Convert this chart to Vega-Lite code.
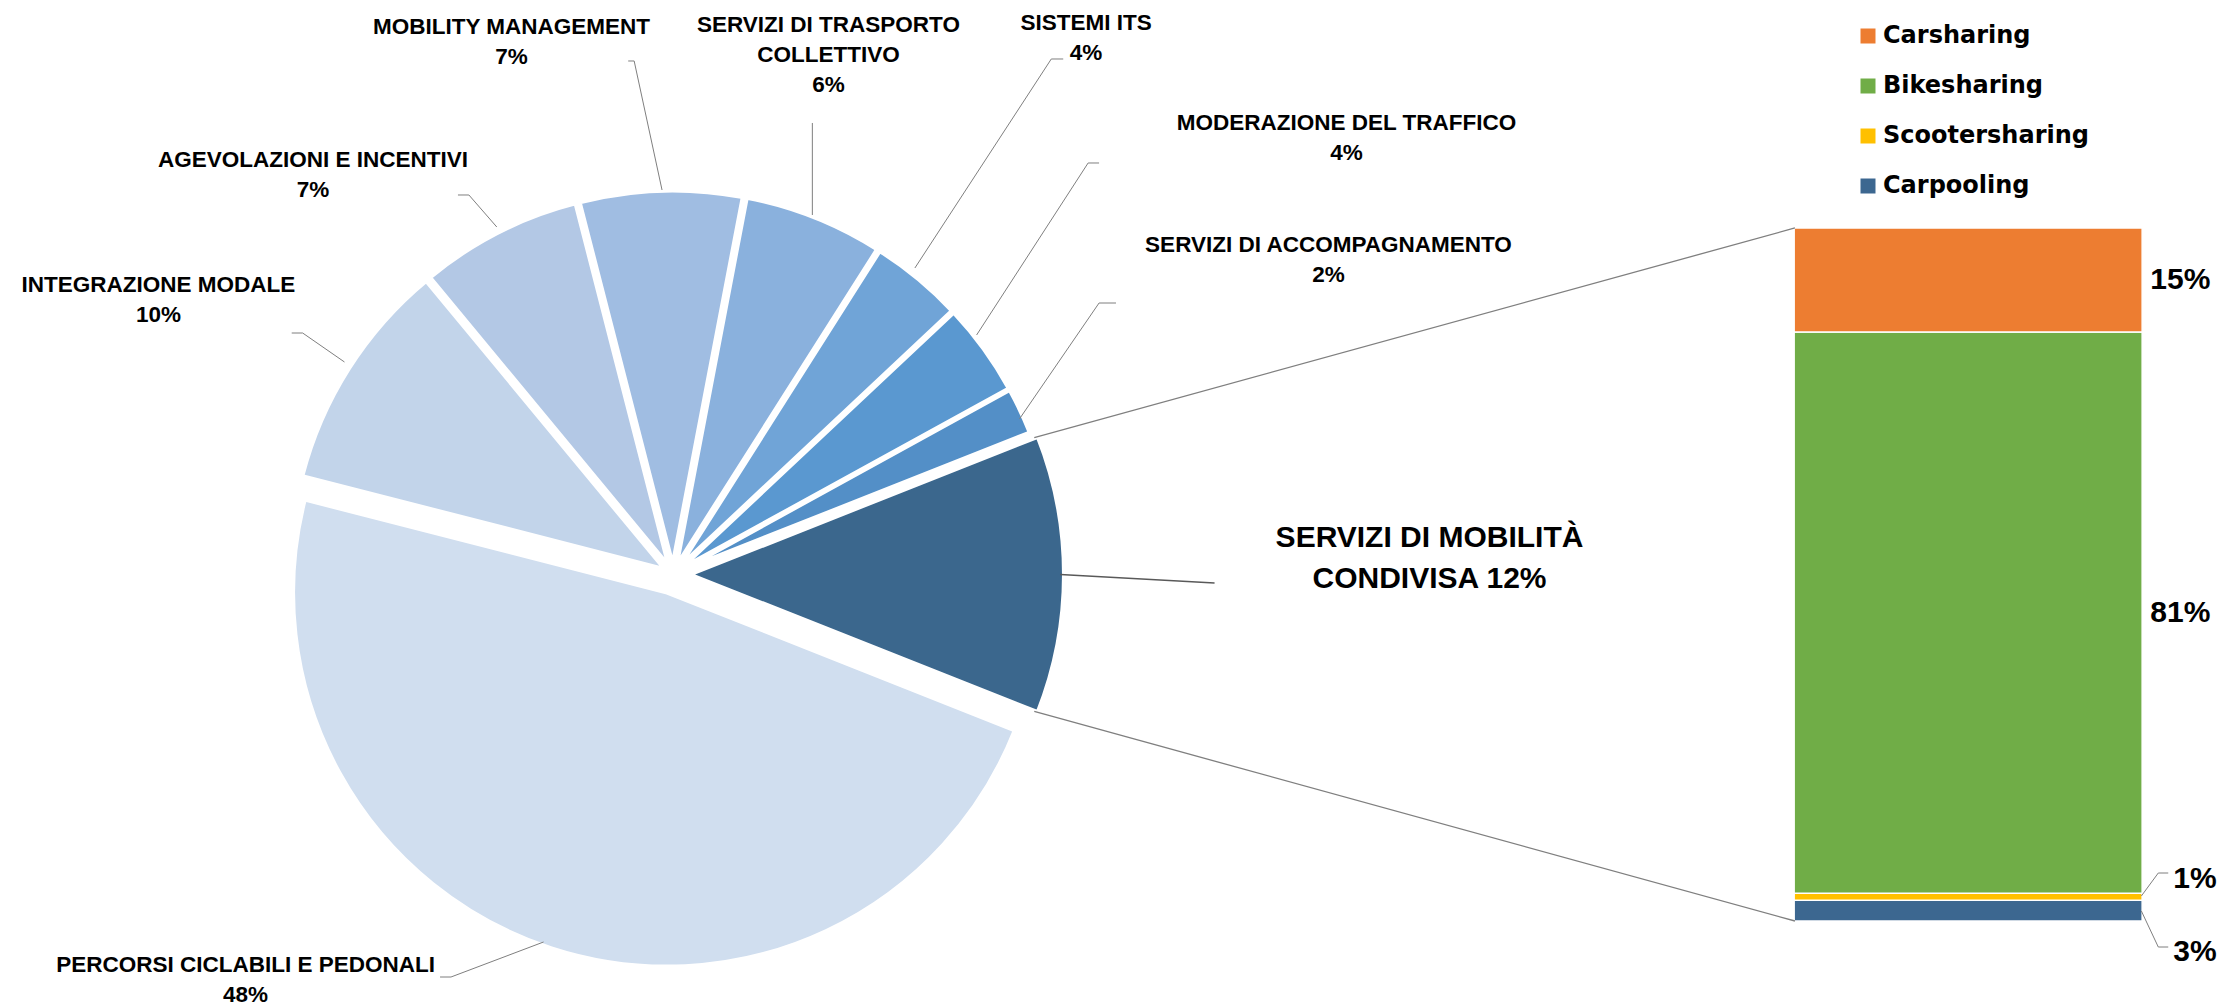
{
  "$schema": "https://vega.github.io/schema/vega-lite/v6.json",
  "width": 2229,
  "height": 1008,
  "autosize": {"type": "none"},
  "padding": 0,
  "background": "#ffffff",
  "config": {"view": {"stroke": null}, "axis": {"disable": true}},
  "datasets": {
    "ambiti": [
      {"ambito": "PERCORSI CICLABILI E PEDONALI", "quota": 0.48, "ordine": 1, "etichetta": "PERCORSI CICLABILI E PEDONALI\n48%"},
      {"ambito": "INTEGRAZIONE MODALE", "quota": 0.10, "ordine": 2, "etichetta": "INTEGRAZIONE MODALE\n10%"},
      {"ambito": "AGEVOLAZIONI E INCENTIVI", "quota": 0.07, "ordine": 3, "etichetta": "AGEVOLAZIONI E INCENTIVI\n7%"},
      {"ambito": "MOBILITY MANAGEMENT", "quota": 0.07, "ordine": 4, "etichetta": "MOBILITY MANAGEMENT\n7%"},
      {"ambito": "SERVIZI DI TRASPORTO COLLETTIVO", "quota": 0.06, "ordine": 5, "etichetta": "SERVIZI DI TRASPORTO\nCOLLETTIVO\n6%"},
      {"ambito": "SISTEMI ITS", "quota": 0.04, "ordine": 6, "etichetta": "SISTEMI ITS\n4%"},
      {"ambito": "MODERAZIONE DEL TRAFFICO", "quota": 0.04, "ordine": 7, "etichetta": "MODERAZIONE DEL TRAFFICO\n4%"},
      {"ambito": "SERVIZI DI ACCOMPAGNAMENTO", "quota": 0.02, "ordine": 8, "etichetta": "SERVIZI DI ACCOMPAGNAMENTO\n2%"},
      {"ambito": "SERVIZI DI MOBILITÀ CONDIVISA", "quota": 0.12, "ordine": 9, "etichetta": "SERVIZI DI MOBILITÀ\nCONDIVISA 12%"}
    ],
    "condivisa": [
      {"servizio": "Carpooling", "quota": 0.03, "ordine": 1},
      {"servizio": "Scootersharing", "quota": 0.01, "ordine": 2},
      {"servizio": "Bikesharing", "quota": 0.81, "ordine": 3},
      {"servizio": "Carsharing", "quota": 0.15, "ordine": 4}
    ]
  },
  "layer": [
    {
      "data": {"name": "ambiti"},
      "encoding": {
        "x": {"datum": 0.96825, "type": "quantitative", "axis": null, "scale": {"domain": [0, 3.21645], "nice": false, "zero": false}},
        "y": {"datum": 0.5, "type": "quantitative", "axis": null, "scale": {"domain": [-0.12554, 1.329], "nice": false, "zero": false}},
        "theta": {"field": "quota", "type": "quantitative", "stack": true, "scale": {"range": [1.94779, 8.23097]}},
        "order": {"field": "ordine", "type": "quantitative"},
        "fill": {
          "field": "ambito", "type": "nominal", "legend": null,
          "scale": {
            "domain": ["PERCORSI CICLABILI E PEDONALI", "INTEGRAZIONE MODALE", "AGEVOLAZIONI E INCENTIVI", "MOBILITY MANAGEMENT", "SERVIZI DI TRASPORTO COLLETTIVO", "SISTEMI ITS", "MODERAZIONE DEL TRAFFICO", "SERVIZI DI ACCOMPAGNAMENTO", "SERVIZI DI MOBILITÀ CONDIVISA"],
            "range": ["#D0DEEF", "#C2D4EA", "#B3C8E5", "#A0BDE2", "#8AB1DD", "#70A4D7", "#5A98D0", "#538FC7", "#3B678D"]
          }
        }
      },
      "layer": [
        {"mark": {"type": "arc", "radius": 374, "stroke": "#ffffff", "strokeWidth": 4, "strokeJoin": "round", "xOffset": -5.9, "yOffset": 18.1},
         "encoding": {"opacity": {"condition": {"test": "datum.ordine === 1", "value": 1}, "value": 0}}},
        {"mark": {"type": "arc", "radius": 374, "stroke": "#ffffff", "strokeWidth": 4, "strokeJoin": "round", "xOffset": -8.4, "yOffset": -5.4},
         "encoding": {"opacity": {"condition": {"test": "datum.ordine === 2", "value": 1}, "value": 0}}},
        {"mark": {"type": "arc", "radius": 374, "stroke": "#ffffff", "strokeWidth": 4, "strokeJoin": "round", "xOffset": -4.5, "yOffset": -8.9},
         "encoding": {"opacity": {"condition": {"test": "datum.ordine === 3", "value": 1}, "value": 0}}},
        {"mark": {"type": "arc", "radius": 374, "stroke": "#ffffff", "strokeWidth": 4, "strokeJoin": "round", "xOffset": -0.3, "yOffset": -10},
         "encoding": {"opacity": {"condition": {"test": "datum.ordine === 4", "value": 1}, "value": 0}}},
        {"mark": {"type": "arc", "radius": 374, "stroke": "#ffffff", "strokeWidth": 4, "strokeJoin": "round", "xOffset": 3.7, "yOffset": -9.3},
         "encoding": {"opacity": {"condition": {"test": "datum.ordine === 5", "value": 1}, "value": 0}}},
        {"mark": {"type": "arc", "radius": 374, "stroke": "#ffffff", "strokeWidth": 4, "strokeJoin": "round", "xOffset": 6.4, "yOffset": -7.7},
         "encoding": {"opacity": {"condition": {"test": "datum.ordine === 6", "value": 1}, "value": 0}}},
        {"mark": {"type": "arc", "radius": 374, "stroke": "#ffffff", "strokeWidth": 4, "strokeJoin": "round", "xOffset": 8.1, "yOffset": -5.9},
         "encoding": {"opacity": {"condition": {"test": "datum.ordine === 7", "value": 1}, "value": 0}}},
        {"mark": {"type": "arc", "radius": 374, "stroke": "#ffffff", "strokeWidth": 4, "strokeJoin": "round", "xOffset": 9.0, "yOffset": -4.3},
         "encoding": {"opacity": {"condition": {"test": "datum.ordine === 8", "value": 1}, "value": 0}}},
        {"mark": {"type": "arc", "radius": 374, "stroke": "#ffffff", "strokeWidth": 4, "strokeJoin": "round", "xOffset": 17, "yOffset": 0},
         "encoding": {"opacity": {"condition": {"test": "datum.ordine === 9", "value": 1}, "value": 0}}},

        {"mark": {"type": "text", "radius": 589.2, "thetaOffset": 0.4974, "dy": -15, "align": "center", "baseline": "middle", "lineBreak": "\n", "lineHeight": 30, "font": "Liberation Sans", "fontSize": 22.5, "fontWeight": "bold"},
         "encoding": {"fill": {"value": "#000000"}, "text": {"condition": {"test": "datum.ordine === 1", "field": "etichetta", "type": "nominal"}, "value": ""}}},
        {"mark": {"type": "text", "radius": 583.2, "thetaOffset": -0.0754, "dy": -15, "align": "center", "baseline": "middle", "lineBreak": "\n", "lineHeight": 30, "font": "Liberation Sans", "fontSize": 22.5, "fontWeight": "bold"},
         "encoding": {"fill": {"value": "#000000"}, "text": {"condition": {"test": "datum.ordine === 2", "field": "etichetta", "type": "nominal"}, "value": ""}}},
        {"mark": {"type": "text", "radius": 537.8, "thetaOffset": -0.2621, "dy": -15, "align": "center", "baseline": "middle", "lineBreak": "\n", "lineHeight": 30, "font": "Liberation Sans", "fontSize": 22.5, "fontWeight": "bold"},
         "encoding": {"fill": {"value": "#000000"}, "text": {"condition": {"test": "datum.ordine === 3", "field": "etichetta", "type": "nominal"}, "value": ""}}},
        {"mark": {"type": "text", "radius": 556.9, "thetaOffset": -0.2628, "dy": -15, "align": "center", "baseline": "middle", "lineBreak": "\n", "lineHeight": 30, "font": "Liberation Sans", "fontSize": 22.5, "fontWeight": "bold"},
         "encoding": {"fill": {"value": "#000000"}, "text": {"condition": {"test": "datum.ordine === 4", "field": "etichetta", "type": "nominal"}, "value": ""}}},
        {"mark": {"type": "text", "radius": 541.8, "thetaOffset": -0.0859, "dy": -30, "align": "center", "baseline": "middle", "lineBreak": "\n", "lineHeight": 30, "font": "Liberation Sans", "fontSize": 22.5, "fontWeight": "bold"},
         "encoding": {"fill": {"value": "#000000"}, "text": {"condition": {"test": "datum.ordine === 5", "field": "etichetta", "type": "nominal"}, "value": ""}}},
        {"mark": {"type": "text", "radius": 677.1, "thetaOffset": -0.0351, "dy": -15, "align": "center", "baseline": "middle", "lineBreak": "\n", "lineHeight": 30, "font": "Liberation Sans", "fontSize": 22.5, "fontWeight": "bold"},
         "encoding": {"fill": {"value": "#000000"}, "text": {"condition": {"test": "datum.ordine === 6", "field": "etichetta", "type": "nominal"}, "value": ""}}},
        {"mark": {"type": "text", "radius": 802.6, "thetaOffset": 0.0532, "dy": -15, "align": "center", "baseline": "middle", "lineBreak": "\n", "lineHeight": 30, "font": "Liberation Sans", "fontSize": 22.5, "fontWeight": "bold"},
         "encoding": {"fill": {"value": "#000000"}, "text": {"condition": {"test": "datum.ordine === 7", "field": "etichetta", "type": "nominal"}, "value": ""}}},
        {"mark": {"type": "text", "radius": 727.0, "thetaOffset": -0.0075, "dy": -15, "align": "center", "baseline": "middle", "lineBreak": "\n", "lineHeight": 30, "font": "Liberation Sans", "fontSize": 22.5, "fontWeight": "bold"},
         "encoding": {"fill": {"value": "#000000"}, "text": {"condition": {"test": "datum.ordine === 8", "field": "etichetta", "type": "nominal"}, "value": ""}}},
        {"mark": {"type": "text", "radius": 756.7, "thetaOffset": -0.0218, "dy": -20.5, "align": "center", "baseline": "middle", "lineBreak": "\n", "lineHeight": 41, "font": "Liberation Sans", "fontSize": 30, "fontWeight": "bold"},
         "encoding": {"fill": {"value": "#000000"}, "text": {"condition": {"test": "datum.ordine === 9", "field": "etichetta", "type": "nominal"}, "value": ""}}}
      ]
    },
    {
      "data": {"name": "condivisa"},
      "encoding": {
        "y": {"field": "quota", "type": "quantitative", "stack": "zero", "axis": null, "scale": {"domain": [-0.12554, 1.329], "nice": false, "zero": false}},
        "order": {"field": "ordine", "type": "quantitative"},
        "detail": {"field": "servizio", "type": "nominal"}
      },
      "layer": [
        {
          "mark": {"type": "bar", "width": 348, "stroke": "#ffffff", "strokeWidth": 1.5},
          "encoding": {
            "x": {"datum": 2.8456, "type": "quantitative", "axis": null, "scale": {"domain": [0, 3.21645], "nice": false, "zero": false}},
            "color": {
              "field": "servizio", "type": "nominal",
              "scale": {"domain": ["Carsharing", "Bikesharing", "Scootersharing", "Carpooling"], "range": ["#ED7D31", "#70AD47", "#FFC000", "#3C6790"]},
              "legend": {"orient": "none", "legendX": 1856, "legendY": 24, "title": null, "symbolType": "square", "symbolSize": 225, "symbolStrokeWidth": 0, "labelFont": "DejaVu Sans", "labelFontSize": 24, "labelFontWeight": "bold", "labelColor": "#000000", "labelOffset": 3, "labelLimit": 400, "rowPadding": 26, "padding": 0}
            }
          }
        },
        {
          "mark": {"type": "text", "align": "left", "baseline": "middle", "dx": 9, "font": "Liberation Sans", "fontSize": 30, "fontWeight": "bold", "fill": "#000000"},
          "encoding": {
            "x": {"datum": 3.09668, "type": "quantitative", "axis": null, "scale": {"domain": [0, 3.21645], "nice": false, "zero": false}},
            "y": {"field": "quota", "type": "quantitative", "stack": "zero", "bandPosition": 0.5, "axis": null, "scale": {"domain": [-0.12554, 1.329], "nice": false, "zero": false}},
            "text": {"condition": {"test": "datum.quota >= 0.1", "field": "quota", "type": "quantitative", "format": ".0%"}, "value": ""}
          }
        },
        {
          "mark": {"type": "text", "align": "left", "baseline": "middle", "dx": 32, "dy": -17.5, "font": "Liberation Sans", "fontSize": 30, "fontWeight": "bold", "fill": "#000000"},
          "encoding": {
            "x": {"datum": 3.09668, "type": "quantitative", "axis": null, "scale": {"domain": [0, 3.21645], "nice": false, "zero": false}},
            "y": {"field": "quota", "type": "quantitative", "stack": "zero", "bandPosition": 0.5, "axis": null, "scale": {"domain": [-0.12554, 1.329], "nice": false, "zero": false}},
            "text": {"condition": {"test": "datum.servizio === 'Scootersharing'", "field": "quota", "type": "quantitative", "format": ".0%"}, "value": ""}
          }
        },
        {
          "mark": {"type": "text", "align": "left", "baseline": "middle", "dx": 32, "dy": 41.5, "font": "Liberation Sans", "fontSize": 30, "fontWeight": "bold", "fill": "#000000"},
          "encoding": {
            "x": {"datum": 3.09668, "type": "quantitative", "axis": null, "scale": {"domain": [0, 3.21645], "nice": false, "zero": false}},
            "y": {"field": "quota", "type": "quantitative", "stack": "zero", "bandPosition": 0.5, "axis": null, "scale": {"domain": [-0.12554, 1.329], "nice": false, "zero": false}},
            "text": {"condition": {"test": "datum.servizio === 'Carpooling'", "field": "quota", "type": "quantitative", "format": ".0%"}, "value": ""}
          }
        }
      ]
    },
    {
      "data": {"values": [{}]},
      "layer": [
        {"mark": {"type": "rule", "color": "#7F7F7F", "strokeWidth": 1.3},
         "encoding": {"x": {"datum": 1.49192, "type": "quantitative", "axis": null, "scale": {"domain": [0, 3.21645], "nice": false, "zero": false}}, "y": {"datum": 0.69754, "type": "quantitative", "axis": null, "scale": {"domain": [-0.12554, 1.329], "nice": false, "zero": false}}, "x2": {"datum": 2.59452}, "y2": {"datum": 1.0}}},
        {"mark": {"type": "rule", "color": "#7F7F7F", "strokeWidth": 1.3},
         "encoding": {"x": {"datum": 1.49192, "type": "quantitative", "axis": null, "scale": {"domain": [0, 3.21645], "nice": false, "zero": false}}, "y": {"datum": 0.30245, "type": "quantitative", "axis": null, "scale": {"domain": [-0.12554, 1.329], "nice": false, "zero": false}}, "x2": {"datum": 2.59452}, "y2": {"datum": 0.0}}},
        {"mark": {"type": "rule", "color": "#595959", "strokeWidth": 1.3},
         "encoding": {"x": {"datum": 1.52958, "type": "quantitative", "axis": null, "scale": {"domain": [0, 3.21645], "nice": false, "zero": false}}, "y": {"datum": 0.5, "type": "quantitative", "axis": null, "scale": {"domain": [-0.12554, 1.329], "nice": false, "zero": false}}, "x2": {"datum": 1.75325}, "y2": {"datum": 0.48773}}},

        {"mark": {"type": "rule", "color": "#7F7F7F", "strokeWidth": 1},
         "encoding": {"x": {"datum": 0.90332, "type": "quantitative", "axis": null, "scale": {"domain": [0, 3.21645], "nice": false, "zero": false}}, "y": {"datum": 1.24098, "type": "quantitative", "axis": null, "scale": {"domain": [-0.12554, 1.329], "nice": false, "zero": false}}, "x2": {"datum": 0.91198}, "y2": {"datum": 1.24098}}},
        {"mark": {"type": "rule", "color": "#7F7F7F", "strokeWidth": 1},
         "encoding": {"x": {"datum": 0.91198, "type": "quantitative", "axis": null, "scale": {"domain": [0, 3.21645], "nice": false, "zero": false}}, "y": {"datum": 1.24098, "type": "quantitative", "axis": null, "scale": {"domain": [-0.12554, 1.329], "nice": false, "zero": false}}, "x2": {"datum": 0.95238}, "y2": {"datum": 1.05483}}},
        {"mark": {"type": "rule", "color": "#7F7F7F", "strokeWidth": 1},
         "encoding": {"x": {"datum": 1.17027, "type": "quantitative", "axis": null, "scale": {"domain": [0, 3.21645], "nice": false, "zero": false}}, "y": {"datum": 1.15152, "type": "quantitative", "axis": null, "scale": {"domain": [-0.12554, 1.329], "nice": false, "zero": false}}, "x2": {"datum": 1.17027}, "y2": {"datum": 1.01876}}},
        {"mark": {"type": "rule", "color": "#7F7F7F", "strokeWidth": 1},
         "encoding": {"x": {"datum": 1.51659, "type": "quantitative", "axis": null, "scale": {"domain": [0, 3.21645], "nice": false, "zero": false}}, "y": {"datum": 1.24387, "type": "quantitative", "axis": null, "scale": {"domain": [-0.12554, 1.329], "nice": false, "zero": false}}, "x2": {"datum": 1.53391}, "y2": {"datum": 1.24387}}},
        {"mark": {"type": "rule", "color": "#7F7F7F", "strokeWidth": 1},
         "encoding": {"x": {"datum": 1.51659, "type": "quantitative", "axis": null, "scale": {"domain": [0, 3.21645], "nice": false, "zero": false}}, "y": {"datum": 1.24387, "type": "quantitative", "axis": null, "scale": {"domain": [-0.12554, 1.329], "nice": false, "zero": false}}, "x2": {"datum": 1.3189}, "y2": {"datum": 0.94228}}},
        {"mark": {"type": "rule", "color": "#7F7F7F", "strokeWidth": 1},
         "encoding": {"x": {"datum": 1.56999, "type": "quantitative", "axis": null, "scale": {"domain": [0, 3.21645], "nice": false, "zero": false}}, "y": {"datum": 1.0938, "type": "quantitative", "axis": null, "scale": {"domain": [-0.12554, 1.329], "nice": false, "zero": false}}, "x2": {"datum": 1.58586}, "y2": {"datum": 1.0938}}},
        {"mark": {"type": "rule", "color": "#7F7F7F", "strokeWidth": 1},
         "encoding": {"x": {"datum": 1.56999, "type": "quantitative", "axis": null, "scale": {"domain": [0, 3.21645], "nice": false, "zero": false}}, "y": {"datum": 1.0938, "type": "quantitative", "axis": null, "scale": {"domain": [-0.12554, 1.329], "nice": false, "zero": false}}, "x2": {"datum": 1.40837}, "y2": {"datum": 0.8456}}},
        {"mark": {"type": "rule", "color": "#7F7F7F", "strokeWidth": 1},
         "encoding": {"x": {"datum": 1.58586, "type": "quantitative", "axis": null, "scale": {"domain": [0, 3.21645], "nice": false, "zero": false}}, "y": {"datum": 0.89177, "type": "quantitative", "axis": null, "scale": {"domain": [-0.12554, 1.329], "nice": false, "zero": false}}, "x2": {"datum": 1.61039}, "y2": {"datum": 0.89177}}},
        {"mark": {"type": "rule", "color": "#7F7F7F", "strokeWidth": 1},
         "encoding": {"x": {"datum": 1.58586, "type": "quantitative", "axis": null, "scale": {"domain": [0, 3.21645], "nice": false, "zero": false}}, "y": {"datum": 0.89177, "type": "quantitative", "axis": null, "scale": {"domain": [-0.12554, 1.329], "nice": false, "zero": false}}, "x2": {"datum": 1.47042}, "y2": {"datum": 0.72439}}},
        {"mark": {"type": "rule", "color": "#7F7F7F", "strokeWidth": 1},
         "encoding": {"x": {"datum": 0.65657, "type": "quantitative", "axis": null, "scale": {"domain": [0, 3.21645], "nice": false, "zero": false}}, "y": {"datum": 1.04762, "type": "quantitative", "axis": null, "scale": {"domain": [-0.12554, 1.329], "nice": false, "zero": false}}, "x2": {"datum": 0.67244}, "y2": {"datum": 1.04762}}},
        {"mark": {"type": "rule", "color": "#7F7F7F", "strokeWidth": 1},
         "encoding": {"x": {"datum": 0.67244, "type": "quantitative", "axis": null, "scale": {"domain": [0, 3.21645], "nice": false, "zero": false}}, "y": {"datum": 1.04762, "type": "quantitative", "axis": null, "scale": {"domain": [-0.12554, 1.329], "nice": false, "zero": false}}, "x2": {"datum": 0.71284}, "y2": {"datum": 1.00144}}},
        {"mark": {"type": "rule", "color": "#7F7F7F", "strokeWidth": 1},
         "encoding": {"x": {"datum": 0.41558, "type": "quantitative", "axis": null, "scale": {"domain": [0, 3.21645], "nice": false, "zero": false}}, "y": {"datum": 0.84848, "type": "quantitative", "axis": null, "scale": {"domain": [-0.12554, 1.329], "nice": false, "zero": false}}, "x2": {"datum": 0.43146}, "y2": {"datum": 0.84848}}},
        {"mark": {"type": "rule", "color": "#7F7F7F", "strokeWidth": 1},
         "encoding": {"x": {"datum": 0.43146, "type": "quantitative", "axis": null, "scale": {"domain": [0, 3.21645], "nice": false, "zero": false}}, "y": {"datum": 0.84848, "type": "quantitative", "axis": null, "scale": {"domain": [-0.12554, 1.329], "nice": false, "zero": false}}, "x2": {"datum": 0.49206}, "y2": {"datum": 0.80664}}},
        {"mark": {"type": "rule", "color": "#7F7F7F", "strokeWidth": 1},
         "encoding": {"x": {"datum": 0.63059, "type": "quantitative", "axis": null, "scale": {"domain": [0, 3.21645], "nice": false, "zero": false}}, "y": {"datum": -0.08081, "type": "quantitative", "axis": null, "scale": {"domain": [-0.12554, 1.329], "nice": false, "zero": false}}, "x2": {"datum": 0.64646}, "y2": {"datum": -0.08081}}},
        {"mark": {"type": "rule", "color": "#7F7F7F", "strokeWidth": 1},
         "encoding": {"x": {"datum": 0.64646, "type": "quantitative", "axis": null, "scale": {"domain": [0, 3.21645], "nice": false, "zero": false}}, "y": {"datum": -0.08081, "type": "quantitative", "axis": null, "scale": {"domain": [-0.12554, 1.329], "nice": false, "zero": false}}, "x2": {"datum": 0.78066}, "y2": {"datum": -0.0303}}},
        {"mark": {"type": "rule", "color": "#7F7F7F", "strokeWidth": 1},
         "encoding": {"x": {"datum": 3.09668, "type": "quantitative", "axis": null, "scale": {"domain": [0, 3.21645], "nice": false, "zero": false}}, "y": {"datum": 0.03608, "type": "quantitative", "axis": null, "scale": {"domain": [-0.12554, 1.329], "nice": false, "zero": false}}, "x2": {"datum": 3.12121}, "y2": {"datum": 0.06926}}},
        {"mark": {"type": "rule", "color": "#7F7F7F", "strokeWidth": 1},
         "encoding": {"x": {"datum": 3.12121, "type": "quantitative", "axis": null, "scale": {"domain": [0, 3.21645], "nice": false, "zero": false}}, "y": {"datum": 0.06926, "type": "quantitative", "axis": null, "scale": {"domain": [-0.12554, 1.329], "nice": false, "zero": false}}, "x2": {"datum": 3.13564}, "y2": {"datum": 0.06926}}},
        {"mark": {"type": "rule", "color": "#7F7F7F", "strokeWidth": 1},
         "encoding": {"x": {"datum": 3.09668, "type": "quantitative", "axis": null, "scale": {"domain": [0, 3.21645], "nice": false, "zero": false}}, "y": {"datum": 0.01443, "type": "quantitative", "axis": null, "scale": {"domain": [-0.12554, 1.329], "nice": false, "zero": false}}, "x2": {"datum": 3.12121}, "y2": {"datum": -0.03752}}},
        {"mark": {"type": "rule", "color": "#7F7F7F", "strokeWidth": 1},
         "encoding": {"x": {"datum": 3.12121, "type": "quantitative", "axis": null, "scale": {"domain": [0, 3.21645], "nice": false, "zero": false}}, "y": {"datum": -0.03752, "type": "quantitative", "axis": null, "scale": {"domain": [-0.12554, 1.329], "nice": false, "zero": false}}, "x2": {"datum": 3.13564}, "y2": {"datum": -0.03752}}}
      ]
    }
  ]
}
